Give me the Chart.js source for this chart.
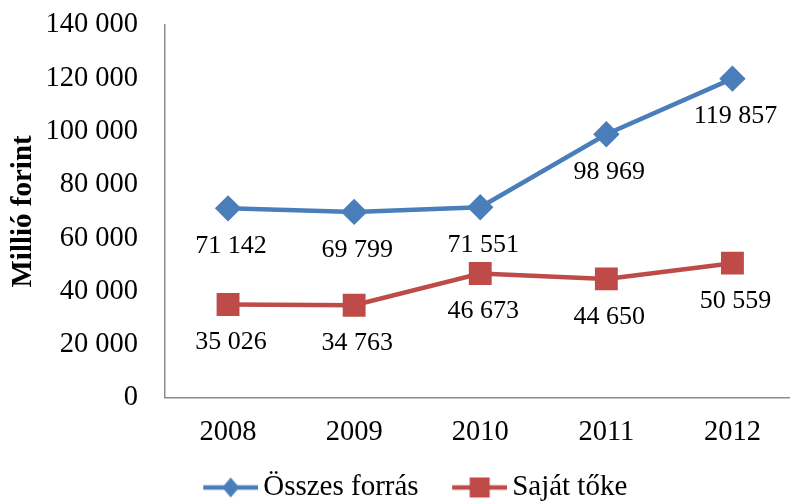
<!DOCTYPE html>
<html>
<head>
<meta charset="utf-8">
<script src="https://cdn.jsdelivr.net/npm/chart.js@4/dist/chart.umd.min.js"></script>
<style>
  html, body { margin:0; padding:0; background:#fff; overflow:hidden; }
  #wrap { width:813px; height:502px; position:relative; }
</style>
</head>
<body>
<div id="wrap"><canvas id="c"></canvas></div>
<script>
/* ---- data ------------------------------------------------------------ */
const YEARS = ["2008","2009","2010","2011","2012"];
const OSSZES = [71142, 69799, 71551, 98969, 119857];
const SAJAT  = [35026, 34763, 46673, 44650, 50559];
const Y_MAX = 140000, Y_STEP = 20000;

const BLUE = "#4A7EBB", RED = "#BE4B48";
const FONT = "'Liberation Serif','Times New Roman',serif";

const fmt = v => String(v).replace(/\B(?=(\d{3})+(?!\d))/g, " ");

/* legend icons: line with marker, drawn in the right part of the image */
function icon(color, shape){
  const cv = document.createElement("canvas");
  cv.width = 85; cv.height = 22;
  const g = cv.getContext("2d");
  g.strokeStyle = color; g.lineWidth = 4.5;
  g.beginPath(); g.moveTo(30,11); g.lineTo(85,11); g.stroke();
  g.fillStyle = color;
  g.beginPath();
  if(shape==="d"){ g.moveTo(57.5,1); g.lineTo(66,11); g.lineTo(57.5,21); g.lineTo(49,11); }
  else { g.rect(47.5,1,20,20); }
  g.fill();
  return cv;
}
const ICONS = [icon(BLUE,"d"), icon(RED,"s")];

/* ---- value labels under each point ----------------------------------- */
const valueLabels = {
  id:"valueLabels",
  afterDatasetsDraw(chart){
    const ctx = chart.ctx;
    ctx.save();
    ctx.font = "26px " + FONT;
    ctx.fillStyle = "#000";
    ctx.textAlign = "center";
    ctx.textBaseline = "middle";
    chart.data.datasets.forEach((ds,i)=>{
      chart.getDatasetMeta(i).data.forEach((pt,j)=>{
        ctx.fillText(fmt(ds.data[j]), pt.x + 3, pt.y + 38);
      });
    });
    ctx.restore();
  }
};

new Chart(document.getElementById("c"), {
  type:"line",
  data:{
    labels: YEARS,
    datasets:[
      { label:"Összes forrás", data:OSSZES, borderColor:BLUE, backgroundColor:BLUE,
        borderWidth:4.5, pointStyle:"rectRot", pointRadius:10, pointHoverRadius:10, tension:0 },
      { label:"Saját tőke", data:SAJAT, borderColor:RED, backgroundColor:RED,
        borderWidth:4.5, pointStyle:"rect", pointRadius:13, pointHoverRadius:13, tension:0 }
    ]
  },
  options:{
    responsive:true, maintainAspectRatio:false, animation:false,
    layout:{ padding:{ top:25, left:0, right:3, bottom:-10 } },
    plugins:{
      tooltip:{ enabled:false },
      legend:{
        position:"bottom",
        labels:{
          usePointStyle:true, pointStyleWidth:66, boxHeight:22,
          color:"#000", font:{ family:FONT, size:29 }, padding:13,
          generateLabels: chart => chart.data.datasets.map((ds,i)=>({
            text: ds.label, pointStyle: ICONS[i], fillStyle: ds.borderColor,
            strokeStyle: ds.borderColor, lineWidth:0, hidden:false, datasetIndex:i
          }))
        }
      }
    },
    scales:{
      x:{
        offset:true,
        grid:{ display:false },
        border:{ display:true, color:"#8c8c8c", width:1.5 },
        ticks:{ color:"#000", font:{ family:FONT, size:28.5 }, padding:10 }
      },
      y:{
        min:0, max:Y_MAX,
        grid:{ display:false },
        border:{ display:true, color:"#8c8c8c", width:1.5 },
        ticks:{ stepSize:Y_STEP, color:"#000", font:{ family:FONT, size:28.5 }, padding:19,
                callback: v => fmt(v) },
        title:{ display:true, text:"Millió forint", color:"#000",
                font:{ family:FONT, size:29, weight:"bold" }, padding:{ top:6, bottom:0 } },
        afterFit: s => { s.width = 165; s.paddingTop = 0; s.paddingBottom = 0; }
      }
    }
  },
  plugins:[valueLabels]
});
</script>
</body>
</html>
